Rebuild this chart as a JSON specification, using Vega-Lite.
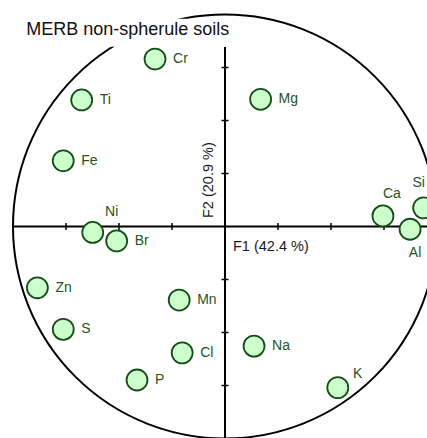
{
  "$schema": "https://vega.github.io/schema/vega-lite/v6.json",
  "width": 427,
  "height": 438,
  "padding": 0,
  "autosize": {"type": "none"},
  "background": "white",
  "config": {"view": {"stroke": null}, "font": "Liberation Sans"},
  "data": {"values": [{"item": "frame"}]},
  "datasets": {
    "vars": [
      {"name": "Cr", "F1": -0.330, "F2": 0.790},
      {"name": "Ti", "F1": -0.676, "F2": 0.597},
      {"name": "Fe", "F1": -0.763, "F2": 0.310},
      {"name": "Mg", "F1": 0.168, "F2": 0.600},
      {"name": "Ca", "F1": 0.745, "F2": 0.050},
      {"name": "Si", "F1": 0.937, "F2": 0.088},
      {"name": "Al", "F1": 0.873, "F2": -0.013},
      {"name": "Ni", "F1": -0.624, "F2": -0.028},
      {"name": "Br", "F1": -0.511, "F2": -0.068},
      {"name": "Zn", "F1": -0.885, "F2": -0.289},
      {"name": "S", "F1": -0.763, "F2": -0.485},
      {"name": "Mn", "F1": -0.216, "F2": -0.347},
      {"name": "Cl", "F1": -0.202, "F2": -0.596},
      {"name": "P", "F1": -0.415, "F2": -0.724},
      {"name": "Na", "F1": 0.137, "F2": -0.564},
      {"name": "K", "F1": 0.532, "F2": -0.760}
    ],
    "ticks": [{"v": -0.75}, {"v": -0.5}, {"v": -0.25}, {"v": 0.25}, {"v": 0.5}, {"v": 0.75}]
  },
  "layer": [
    {
      "mark": {"type": "point", "shape": "circle", "filled": false, "stroke": "black", "strokeWidth": 2, "size": 179776, "opacity": 1},
      "encoding": {
        "x": {"datum": 0, "type": "quantitative", "axis": null, "scale": {"domain": [-1.0613, 0.9528], "nice": false, "zero": false}},
        "y": {"datum": 0, "type": "quantitative", "axis": null, "scale": {"domain": [-0.9976, 1.0684], "nice": false, "zero": false}}
      }
    },
    {
      "mark": {"type": "rect", "fill": "white"},
      "encoding": {
        "x": {"datum": -1.1, "type": "quantitative", "axis": null},
        "x2": {"datum": 0.07},
        "y": {"datum": 0.848, "type": "quantitative", "axis": null},
        "y2": {"datum": 0.98}
      }
    },
    {
      "mark": {"type": "rule", "stroke": "black", "strokeWidth": 2},
      "encoding": {
        "x": {"datum": -1, "type": "quantitative", "axis": null},
        "x2": {"datum": 1.2},
        "y": {"datum": 0, "type": "quantitative", "axis": null}
      }
    },
    {
      "mark": {"type": "rule", "stroke": "black", "strokeWidth": 2},
      "encoding": {
        "x": {"datum": 0, "type": "quantitative", "axis": null},
        "y": {"datum": 0.847, "type": "quantitative", "axis": null},
        "y2": {"datum": -1.2}
      }
    },
    {
      "data": {"name": "ticks"},
      "mark": {"type": "tick", "orient": "vertical", "color": "black", "size": 7, "thickness": 1.5, "opacity": 1},
      "encoding": {
        "x": {"field": "v", "type": "quantitative", "axis": null},
        "y": {"datum": 0, "type": "quantitative", "axis": null}
      }
    },
    {
      "data": {"name": "ticks"},
      "mark": {"type": "tick", "orient": "horizontal", "color": "black", "size": 7, "thickness": 1.5, "opacity": 1},
      "encoding": {
        "y": {"field": "v", "type": "quantitative", "axis": null},
        "x": {"datum": 0, "type": "quantitative", "axis": null}
      }
    },
    {
      "mark": {"type": "text", "text": "F1 (42.4 %)", "fontSize": 14.5, "align": "left", "baseline": "alphabetic", "dx": 8, "dy": 24, "color": "#1a1a1a"},
      "encoding": {
        "x": {"datum": 0, "type": "quantitative", "axis": null},
        "y": {"datum": 0, "type": "quantitative", "axis": null}
      }
    },
    {
      "mark": {"type": "text", "text": "F2 (20.9 %)", "fontSize": 14.5, "align": "left", "baseline": "alphabetic", "angle": 270, "dx": 8.5, "dy": -12, "color": "#1a1a1a"},
      "encoding": {
        "x": {"datum": 0, "type": "quantitative", "axis": null},
        "y": {"datum": 0, "type": "quantitative", "axis": null}
      }
    },
    {
      "mark": {"type": "text", "text": "MERB non-spherule soils", "fontSize": 18, "align": "left", "baseline": "alphabetic", "color": "#111111"},
      "encoding": {
        "x": {"datum": -0.938, "type": "quantitative", "axis": null},
        "y": {"datum": 0.903, "type": "quantitative", "axis": null}
      }
    },
    {
      "data": {"name": "vars"},
      "mark": {"type": "point", "shape": "circle", "filled": true, "fill": "#ccffcc", "stroke": "#164d16", "strokeWidth": 1.8, "size": 440, "opacity": 1},
      "encoding": {
        "x": {"field": "F1", "type": "quantitative", "axis": null},
        "y": {"field": "F2", "type": "quantitative", "axis": null}
      }
    },
    {
      "data": {"name": "vars"},
      "transform": [{"filter": {"field": "name", "oneOf": ["Cr", "Ti", "Fe", "Mg", "Br", "Zn", "S", "Mn", "Cl", "P", "Na"]}}],
      "mark": {"type": "text", "fontSize": 14, "align": "left", "baseline": "middle", "dx": 18, "color": "#245424"},
      "encoding": {
        "x": {"field": "F1", "type": "quantitative", "axis": null},
        "y": {"field": "F2", "type": "quantitative", "axis": null},
        "text": {"field": "name"}
      }
    },
    {
      "data": {"name": "vars"},
      "transform": [{"filter": {"field": "name", "equal": "Ni"}}],
      "mark": {"type": "text", "fontSize": 14, "align": "center", "baseline": "middle", "dx": 19, "dy": -20, "color": "#245424"},
      "encoding": {
        "x": {"field": "F1", "type": "quantitative", "axis": null},
        "y": {"field": "F2", "type": "quantitative", "axis": null},
        "text": {"field": "name"}
      }
    },
    {
      "data": {"name": "vars"},
      "transform": [{"filter": {"field": "name", "equal": "Ca"}}],
      "mark": {"type": "text", "fontSize": 14, "align": "center", "baseline": "middle", "dx": 9, "dy": -22, "color": "#245424"},
      "encoding": {
        "x": {"field": "F1", "type": "quantitative", "axis": null},
        "y": {"field": "F2", "type": "quantitative", "axis": null},
        "text": {"field": "name"}
      }
    },
    {
      "data": {"name": "vars"},
      "transform": [{"filter": {"field": "name", "equal": "Si"}}],
      "mark": {"type": "text", "fontSize": 14, "align": "center", "baseline": "middle", "dx": -5, "dy": -25, "color": "#245424"},
      "encoding": {
        "x": {"field": "F1", "type": "quantitative", "axis": null},
        "y": {"field": "F2", "type": "quantitative", "axis": null},
        "text": {"field": "name"}
      }
    },
    {
      "data": {"name": "vars"},
      "transform": [{"filter": {"field": "name", "equal": "Al"}}],
      "mark": {"type": "text", "fontSize": 14, "align": "center", "baseline": "middle", "dx": 5, "dy": 24, "color": "#245424"},
      "encoding": {
        "x": {"field": "F1", "type": "quantitative", "axis": null},
        "y": {"field": "F2", "type": "quantitative", "axis": null},
        "text": {"field": "name"}
      }
    },
    {
      "data": {"name": "vars"},
      "transform": [{"filter": {"field": "name", "equal": "K"}}],
      "mark": {"type": "text", "fontSize": 14, "align": "center", "baseline": "middle", "dx": 20, "dy": -14, "color": "#245424"},
      "encoding": {
        "x": {"field": "F1", "type": "quantitative", "axis": null},
        "y": {"field": "F2", "type": "quantitative", "axis": null},
        "text": {"field": "name"}
      }
    }
  ]
}
